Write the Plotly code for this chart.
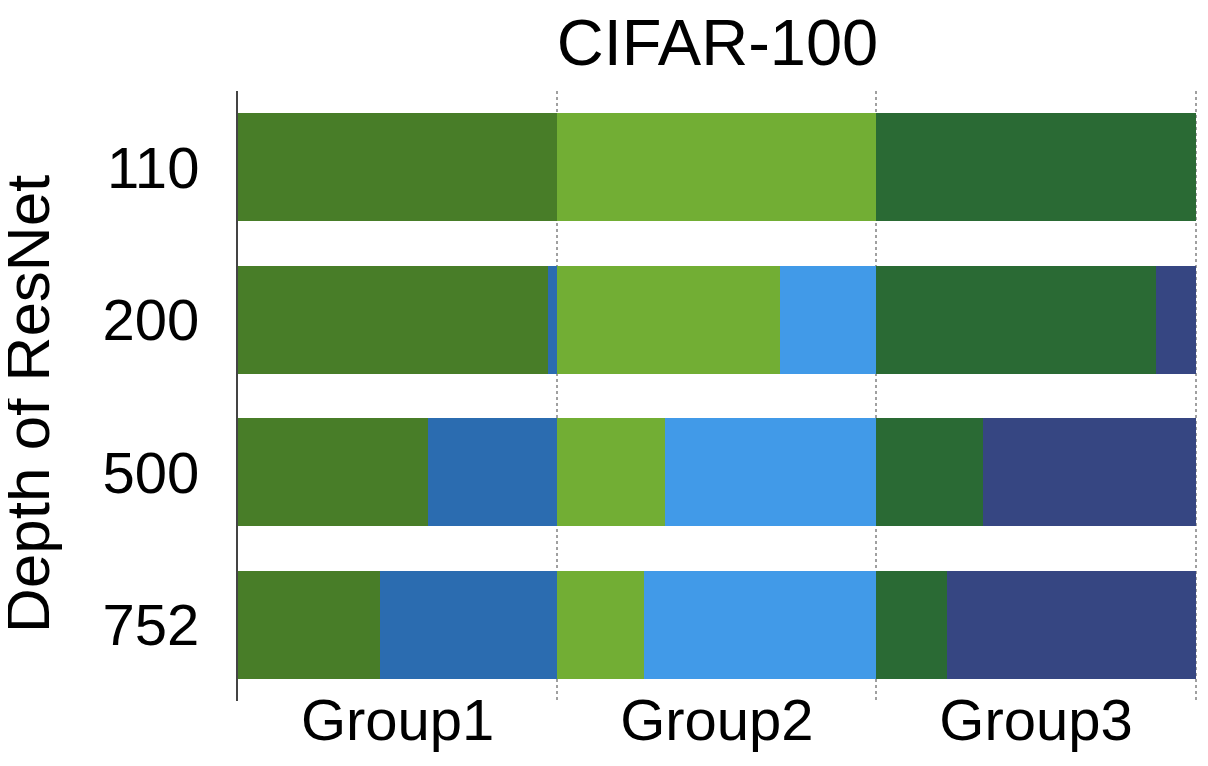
import plotly.graph_objects as go

# ResNet depths (rows) and the share of each group taken by the two parts
depths = ["110", "200", "500", "752"]
groups = ["Group1", "Group2", "Group3"]

g1_a = [1.0, 0.972, 0.594, 0.444]
g1_b = [0.0, 0.028, 0.406, 0.556]
g2_a = [1.0, 0.697, 0.338, 0.272]
g2_b = [0.0, 0.303, 0.662, 0.728]
g3_a = [1.0, 0.875, 0.334, 0.222]
g3_b = [0.0, 0.125, 0.666, 0.778]

colors = ["#487d28", "#2b6cb0", "#72ae34", "#419ae8", "#2a6a34", "#364682"]

FONT = "Liberation Sans, Arial, Helvetica, sans-serif"

# page body has an 8px margin, so the figure is laid out 8px smaller
W, H = 1200, 758
L, R, T, B = 230, 11, 83, 65

fig = go.Figure()
for vals, col in zip([g1_a, g1_b, g2_a, g2_b, g3_a, g3_b], colors):
    fig.add_trace(go.Bar(
        x=vals, y=depths, orientation="h",
        marker=dict(color=col, line=dict(width=0)),
        showlegend=False, hoverinfo="skip"))

fig.update_layout(
    width=W, height=H,
    margin=dict(l=L, r=R, t=T, b=B),
    paper_bgcolor="white", plot_bgcolor="white",
    barmode="stack", bargap=0.29,
    font=dict(family=FONT, color="black"),
    title=dict(text="CIFAR-100", x=(L + (W - R)) / 2 / W, xanchor="center",
               y=1 - 34 / H, yanchor="middle", font=dict(size=65)),
)
fig.update_xaxes(
    range=[0, 3.004], tickmode="array", tickvals=[0.5, 1.5, 2.5], ticktext=groups,
    showgrid=False, zeroline=False, showline=False, ticks="",
    tickfont=dict(size=58), automargin=False, ticklabelstandoff=-20,
    minor=dict(tickmode="linear", tick0=0, dtick=1, showgrid=True,
               gridcolor="#a0a0a0", griddash="dot", gridwidth=2, ticks=""),
)
fig.update_yaxes(
    type="category", range=[3.5, -0.5], showgrid=False, zeroline=False,
    showline=True, linecolor="#444444", linewidth=2, ticks="",
    ticklabelstandoff=25, tickfont=dict(size=58), automargin=False,
)
fig.add_annotation(
    text="Depth of ResNet", textangle=-90, showarrow=False,
    xref="paper", yref="paper",
    x=(19 - L) / (W - L - R), y=(H - B - 396) / (H - T - B),
    xanchor="center", yanchor="middle", font=dict(size=62),
)

fig.write_html("out.html")
